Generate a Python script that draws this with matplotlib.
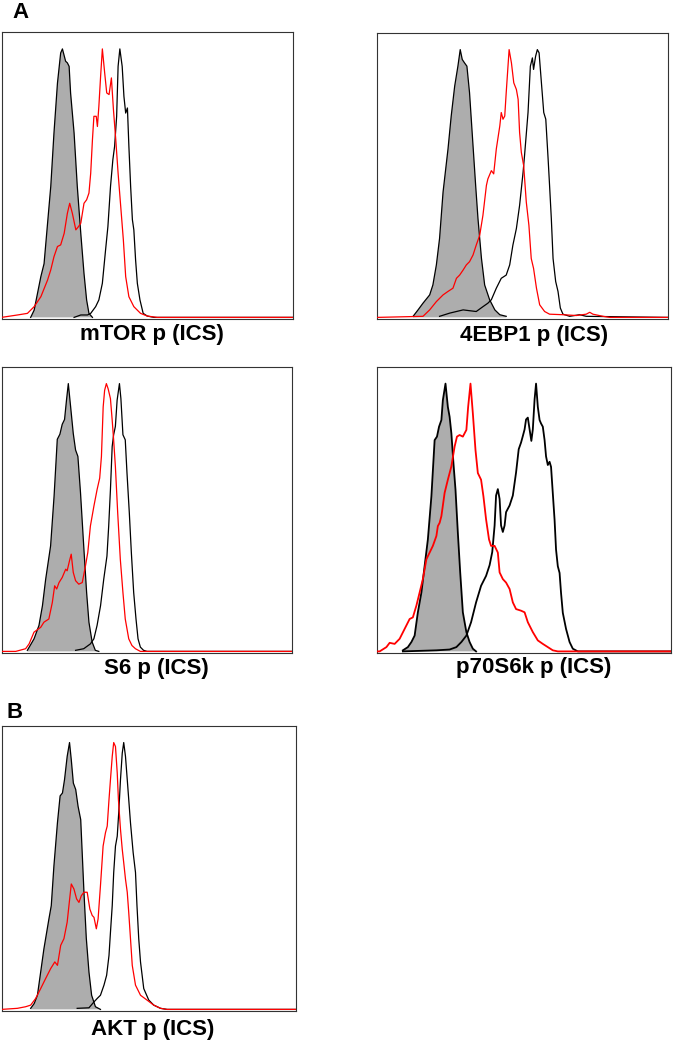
# flow cytometry histograms, phospho-protein ICS

import matplotlib

matplotlib.use("Agg")
import matplotlib.pyplot as plt

plt.rcParams["font.family"] = ["Liberation Sans", "DejaVu Sans"]

# x = position along the (unlabelled) log fluorescence axis, % of axis width
# y = % of max

# mTOR p
mtor_iso_x = [10.0, 11.2, 13.5, 14.6, 16.9, 18.0, 19.2, 20.3, 20.9, 22.0, 22.6, 23.2, 23.7, 24.9, 26.0, 27.2, 28.3, 29.2, 30.0, 31.2]
mtor_iso_y = [0, 2.7, 15.2, 20.0, 48.8, 68.7, 87.3, 98.5, 100, 95.4, 94.8, 93.5, 83.6, 68.7, 48.8, 31.3, 16.4, 6.5, 1.5, 0]
mtor_red_x = [0, 5.5, 8.9, 11.2, 13.5, 15.8, 16.9, 18.0, 19.2, 20.3, 21.5, 22.6, 23.4, 24.3, 25.5, 26.4, 27.2, 28.3, 29.2, 30.0,
              30.6, 31.2, 31.7, 32.5, 32.9, 33.4, 34.0, 34.6, 35.4, 36.1, 36.9, 37.7, 38.4, 39.2, 40.0, 40.9, 41.8, 42.6,
              43.7, 45.4, 47.7, 50.0, 53.4, 100]
mtor_red_y = [0, 0.9, 1.5, 4.0, 7.7, 13.9, 17.7, 22.6, 26.4, 27.0, 31.3, 38.8, 42.5, 38.8, 32.6, 33.8, 35.1, 42.5, 43.8, 46.3,
              53.7, 66.2, 74.9, 74.9, 71.1, 78.6, 89.8, 100, 91.0, 83.6, 83.0, 89.2, 77.4, 66.2, 53.7, 41.3, 28.9, 15.2,
              7.7, 4.0, 1.5, 0.5, 0, 0]
mtor_blk_x = [24.9, 27.2, 29.5, 30.6, 32.3, 33.4, 34.6, 35.7, 36.5, 37.4, 38.2, 38.8, 39.5, 40.0, 40.6, 41.4, 42.0, 42.6,
              43.2, 43.7, 44.3, 44.9, 45.4, 46.0, 46.6, 47.5, 48.6, 50.0, 52.3, 100]
mtor_blk_y = [0, 0.9, 0.9, 1.5, 4.0, 6.5, 12.7, 25.1, 33.8, 48.8, 58.7, 63.7, 74.9, 93.5, 100, 93.5, 82.3, 76.1,
              78.0, 63.7, 48.8, 36.4, 32.6, 21.4, 12.7, 6.5, 1.5, 0.5, 0, 0]

# 4EBP1 p
ebp_iso_x = [12.4, 14.1, 15.8, 18.1, 19.2, 20.4, 21.5, 22.7, 24.4, 25.5, 26.7, 27.8, 28.6, 29.3, 30.1, 30.9, 31.8, 33.0,
             33.9, 34.7, 35.9, 37.0, 38.7, 40.5, 42.2, 44.4]
ebp_iso_y = [0.4, 2.8, 5.3, 8.4, 12.1, 19.6, 29.5, 46.8, 62.9, 75.2, 86.4, 93.8, 100, 96.3, 95.0, 93.8, 83.9, 64.1,
             49.3, 36.9, 22.0, 12.1, 6.6, 2.8, 1.0, 0.4]
ebp_red_x = [0, 15.8, 18.1, 20.4, 22.7, 24.4, 26.1, 27.3, 28.4, 29.6, 30.7, 31.8, 33.0, 34.1, 35.3, 36.4, 37.6, 38.1,
             39.3, 40.1, 41.0, 42.2, 42.7, 43.3, 43.9, 44.4, 45.4, 46.2, 47.0, 47.9, 48.5, 49.0, 49.6, 50.4, 51.3,
             52.2, 53.0, 53.8, 54.8, 55.9, 57.6, 59.3, 63.9, 68.5, 71.9, 73.1, 74.2, 77.7, 80.0, 100]
ebp_red_y = [0, 0.4, 2.8, 5.9, 8.4, 9.7, 10.9, 14.6, 15.8, 17.7, 19.6, 20.8, 23.3, 27.0, 30.7, 38.1, 49.3, 51.7,
             54.8, 53.6, 62.9, 71.5, 76.5, 74.0, 75.2, 83.9, 100, 95.0, 87.6, 85.1, 81.4, 69.1, 61.6, 56.7, 43.1,
             34.4, 22.0, 18.3, 10.9, 4.7, 2.2, 1.2, 1.0, 0.7, 1.2, 1.9, 1.2, 0.4, 0, 0]
ebp_blk_x = [21.5, 25.0, 29.6, 31.8, 34.1, 36.4, 38.1, 39.3, 41.0, 42.7, 44.4, 45.6, 46.7, 47.9, 49.0, 50.2, 50.7,
             51.9, 52.7, 53.4, 53.8, 54.5, 55.1, 55.7, 56.5, 57.3, 58.0, 58.8, 59.3, 59.9, 60.5, 61.4, 62.2, 63.0,
             63.9, 66.2, 69.6, 71.9, 100]
ebp_blk_y = [0.4, 1.6, 2.8, 2.5, 2.2, 4.0, 5.3, 6.6, 10.9, 14.6, 15.8, 19.6, 27.0, 33.2, 41.8, 54.2, 60.4,
             76.5, 93.8, 96.9, 92.6, 97.5, 100, 98.8, 87.6, 76.5, 74.0, 59.2, 49.3, 37.0, 22.0, 13.4, 9.7, 3.5,
             1.2, 0.4, 1.0, 0.4, 0]

# S6 p
s6_iso_x = [8.9, 11.2, 12.9, 14.1, 15.2, 16.9, 18.1, 19.2, 20.1, 20.9, 21.7, 22.4, 23.0, 23.8, 24.7, 25.5, 26.3, 27.2,
            28.3, 29.3, 30.1, 31.2, 32.3, 33.5]
s6_iso_y = [0.4, 4.7, 9.7, 17.1, 26.9, 39.4, 58.0, 79.2, 81.1, 84.8, 86.6, 94.1, 100, 91.3, 81.4, 75.2, 72.8, 59.2,
            39.4, 22.0, 10.9, 3.5, 0.4, 0]
s6_red_x = [0, 4.9, 8.3, 9.5, 11.2, 13.5, 14.6, 16.3, 17.5, 18.3, 19.0, 19.8, 20.9, 22.1, 22.6, 23.4, 24.0, 24.7, 25.5,
            26.6, 27.8, 28.9, 29.7, 30.6, 31.8, 32.9, 33.8, 34.4, 35.0, 35.5, 36.1, 36.7, 37.5, 38.1, 38.6, 39.2,
            40.0, 40.9, 41.8, 42.6, 43.8, 44.9, 46.1, 47.8, 100]
s6_red_y = [0, 0, 1.0, 2.8, 7.2, 9.0, 10.9, 12.1, 18.3, 24.5, 23.3, 25.7, 27.6, 30.7, 30.1, 33.8, 36.3, 29.5, 26.4,
            25.1, 25.7, 31.9, 36.9, 46.8, 54.2, 60.4, 64.7, 72.8, 91.3, 97.5, 100, 98.1, 94.4, 86.4, 79.0, 69.1,
            51.7, 34.4, 22.0, 12.1, 4.7, 2.2, 1.0, 0, 0]
s6_blk_x = [25.5, 28.3, 30.6, 31.8, 32.9, 34.1, 35.2, 36.3, 36.9, 37.5, 38.1, 38.6, 39.2, 39.8, 40.6, 41.1, 41.8, 42.6,
            43.2, 44.0, 44.7, 45.5, 46.3, 47.0, 47.8, 48.9, 50.1, 100]
s6_blk_y = [0.4, 1.0, 2.8, 4.7, 9.7, 17.1, 27.0, 35.6, 46.8, 60.4, 76.5, 80.9, 84.0, 93.8, 100, 94.4, 80.9, 79.0,
            66.6, 51.7, 36.9, 22.0, 12.1, 4.7, 1.6, 0.4, 0, 0]

# p70S6k p
p70_iso_x = [8.8, 10.5, 11.7, 12.8, 13.9, 15.1, 16.2, 17.3, 18.5, 19.6, 20.4, 21.1, 21.9, 22.4, 23.3, 24.1, 24.7, 25.3,
             26.0, 26.7, 27.5, 28.3, 29.2, 30.4, 31.5, 32.6, 33.7]
p70_iso_y = [0.4, 1.6, 3.5, 5.9, 14.6, 22.0, 31.9, 41.8, 57.9, 78.9, 80.2, 83.9, 86.4, 93.8, 100, 91.3, 87.6, 81.4,
             70.3, 60.4, 44.3, 29.5, 14.6, 7.2, 3.5, 1.0, 0]
p70_red_x = [0, 0.9, 3.2, 4.3, 6.0, 7.7, 9.4, 11.1, 12.2, 13.4, 14.5, 15.6, 16.8, 17.9, 19.0, 20.2, 20.7, 21.3, 21.9,
             23.0, 24.1, 25.3, 26.4, 27.2, 28.1, 29.2, 30.4, 31.0, 31.8, 32.6, 33.5, 34.3, 35.4, 36.2, 37.1, 38.1,
             38.8, 40.0, 41.1, 41.7, 42.8, 43.9, 45.1, 46.2, 47.3, 49.0, 50.2, 51.3, 53.0, 54.7, 56.4, 58.1, 59.8,
             61.5, 100]
p70_red_y = [0, 0, 1.6, 3.2, 2.8, 4.7, 8.4, 12.1, 12.7, 17.1, 22.0, 27.0, 34.4, 36.9, 39.4, 43.1, 46.8, 48.0, 50.5,
             59.2, 64.1, 69.1, 76.5, 80.2, 80.8, 80.2, 82.7, 91.3, 100, 88.9, 75.2, 66.6, 64.1, 57.9, 49.3, 41.8,
             39.4, 39.4, 36.9, 29.5, 27.0, 25.7, 23.3, 18.3, 15.8, 15.2, 14.6, 10.9, 7.2, 4.1, 2.8, 1.6, 0.4,
             0, 0]
p70_blk_x = [8.8, 20.2, 24.7, 27.0, 28.7, 30.4, 32.0, 33.7, 35.4, 37.1, 38.3, 39.2, 40.0, 40.5, 41.1, 41.7, 42.2, 42.8,
             43.4, 43.9, 45.1, 46.2, 47.3, 48.2, 49.0, 49.6, 50.2, 50.7, 51.3, 51.9, 52.5, 53.0, 53.6, 54.1, 54.7,
             55.3, 55.8, 56.4, 57.0, 57.5, 58.1, 58.7, 59.2, 59.8, 60.4, 60.9, 61.5, 62.1, 62.6, 63.2, 64.3, 65.5,
             66.6, 68.3, 100]
p70_blk_y = [0, 0.4, 0.7, 1.6, 3.5, 5.9, 10.9, 18.3, 24.5, 28.2, 32.2, 37.1, 47.0, 58.2, 60.6, 56.9, 47.0, 44.6,
             47.0, 52.0, 54.5, 58.2, 66.8, 75.5, 78.0, 80.4, 82.9, 86.6, 87.3, 82.9, 78.6, 82.9, 94.1, 100, 91.3,
             86.4, 85.1, 83.9, 78.9, 72.8, 69.6, 70.8, 68.9, 59.0, 49.1, 38.0, 31.8, 29.3, 21.8, 14.4, 8.4, 3.5,
             1.0, 0, 0]

# AKT p
akt_iso_x = [9.9, 11.1, 12.2, 13.3, 14.4, 16.1, 16.9, 17.8, 19.0, 19.9, 20.7, 21.4, 22.3, 23.1, 23.7, 24.4, 25.2, 26.0,
             26.9, 27.4, 28.0, 28.8, 29.7, 30.6, 31.9, 33.6]
akt_iso_y = [0.4, 2.2, 5.3, 14.0, 22.7, 33.9, 38.9, 53.8, 70.0, 80.0, 81.1, 86.1, 94.8, 100, 93.5, 84.8, 82.4, 76.1,
             71.1, 58.8, 43.9, 26.6, 14.0, 5.3, 1.0, 0]
akt_red_x = [0, 5.4, 8.2, 9.9, 11.6, 13.3, 15.0, 16.7, 18.1, 19.0, 20.1, 21.2, 22.3, 22.9, 23.7, 24.6, 25.5, 26.3,
             27.1, 28.0, 29.1, 30.0, 30.8, 31.4, 32.2, 32.8, 33.6, 34.5, 35.3, 35.9, 36.5, 37.0, 37.6, 38.1, 38.7,
             39.3, 39.7, 40.4, 41.0, 41.5, 42.1, 42.7, 43.2, 43.8, 44.4, 45.5, 47.2, 49.4, 51.7, 54.0, 56.2, 100]
akt_red_y = [0, 0.4, 1.0, 1.6, 4.1, 7.8, 11.6, 15.3, 17.8, 16.5, 24.0, 26.5, 32.7, 38.9, 47.0, 45.1, 41.4, 40.1,
             42.6, 43.9, 43.9, 37.6, 35.2, 34.5, 30.2, 33.9, 46.3, 61.2, 66.2, 68.7, 78.6, 86.1, 94.8, 100, 98.5,
             88.6, 78.6, 67.5, 60.0, 55.0, 48.8, 43.9, 36.4, 26.5, 16.5, 9.1, 5.3, 3.5, 1.6, 0.4, 0, 0]
akt_blk_x = [25.7, 29.7, 31.4, 32.5, 33.6, 34.8, 35.7, 36.5, 37.0, 37.6, 38.1, 38.7, 39.3, 39.8, 40.4, 41.0, 41.5,
             42.1, 42.7, 43.8, 44.7, 45.5, 46.0, 46.6, 47.2, 48.3, 50.0, 51.7, 54.0, 56.2, 100]
akt_blk_y = [0.4, 0.6, 2.8, 4.1, 5.3, 9.1, 12.8, 20.2, 28.9, 38.9, 51.3, 61.2, 64.9, 73.6, 86.1, 96.0, 100,
             94.8, 86.1, 69.9, 58.8, 51.3, 38.9, 26.5, 17.8, 7.8, 3.5, 1.6, 0.4, 0, 0]

W, H = 674, 1050
fig = plt.figure(figsize=(W / 100, H / 100), dpi=100)


def px_rect(x0, y0, x1, y1):
    return [x0 / W, 1 - y1 / H, (x1 - x0) / W, (y1 - y0) / H]


# (title, box in px, iso, red, black, ymax, line width, label x/baseline in px)
panels = [
    ("mTOR p (ICS)", (1.5, 32, 293, 319), (mtor_iso_x, mtor_iso_y), (mtor_red_x, mtor_red_y),
     (mtor_blk_x, mtor_blk_y), 106.3, 0.9, (152, 340)),
    ("4EBP1 p (ICS)", (377, 33, 668, 319), (ebp_iso_x, ebp_iso_y), (ebp_red_x, ebp_red_y),
     (ebp_blk_x, ebp_blk_y), 106.2, 0.9, (534, 341)),
    ("S6 p (ICS)", (1.5, 367, 292, 653), (s6_iso_x, s6_iso_y), (s6_red_x, s6_red_y),
     (s6_blk_x, s6_blk_y), 106.2, 0.9, (156, 674)),
    ("p70S6k p (ICS)", (377, 367, 671, 653), (p70_iso_x, p70_iso_y), (p70_red_x, p70_red_y),
     (p70_blk_x, p70_blk_y), 106.2, 1.3, (534, 673)),
    ("AKT p (ICS)", (1.5, 726, 296, 1011), (akt_iso_x, akt_iso_y), (akt_red_x, akt_red_y),
     (akt_blk_x, akt_blk_y), 106.2, 0.9, (153, 1035)),
]

for title, box, iso, red, blk, ymax, lw, lab in panels:
    ax = fig.add_axes(px_rect(*box))
    ax.fill_between(iso[0], 0, iso[1], facecolor="#adadad", edgecolor="none", zorder=1)
    ax.plot(iso[0], iso[1], color="black", lw=lw, zorder=2)
    ax.plot(blk[0], blk[1], color="black", lw=lw, zorder=3)
    ax.plot(red[0], red[1], color="#ff0000", lw=lw, zorder=4)
    ax.set_xlim(0, 100)
    ax.set_ylim(-0.6, ymax)
    ax.set_xticks([])
    ax.set_yticks([])
    for sp in ax.spines.values():
        sp.set_color("#333333")
        sp.set_linewidth(0.8)
    fig.text(lab[0] / W, 1 - lab[1] / H, title, ha="center", va="baseline",
             fontsize=16, fontweight="bold")

fig.text(12 / W, 1 - 18 / H, "A", ha="left", va="baseline", fontsize=16, fontweight="bold")
fig.text(7 / W, 1 - 718 / H, "B", ha="left", va="baseline", fontsize=16, fontweight="bold")

fig.savefig("out.png", dpi=100)
